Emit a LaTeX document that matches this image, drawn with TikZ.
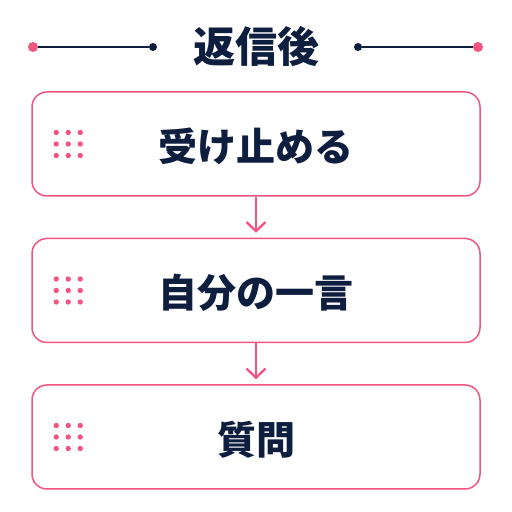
\documentclass[tikz,border=0pt]{standalone}
\usepackage{fontspec}
\newfontfamily\cjk{Noto Sans CJK JP}
\usetikzlibrary{arrows.meta}
\definecolor{pinkc}{HTML}{F2557F}
\definecolor{navyc}{HTML}{0E1E3F}
\tikzset{
  stepbox/.style={draw=pinkc, line width=1.5pt, rounded corners=15pt, minimum width=448pt, minimum height=104pt, fill=white},
  label/.style={text=navyc, font=\cjk\bfseries\fontsize{39pt}{41pt}\selectfont, inner sep=0pt},
  flow/.style={draw=pinkc, line width=2.4pt, -{Straight Barb[length=9pt,width=19pt,line width=2.4pt]}, shorten >=5pt},
  pdot/.style={circle, fill=pinkc, inner sep=0pt, minimum size=5.4pt},
}
\begin{document}
\begin{tikzpicture}[x=1pt,y=1pt]
\useasboundingbox (0,0) rectangle (512,512);
\fill[white] (0,0) rectangle (512,512);
% title
\node[label, font=\cjk\bfseries\fontsize{42pt}{44pt}\selectfont] (title) at (256,465.5) {返信後};
\node[circle, fill=pinkc, inner sep=0pt, minimum size=10pt] (lp) at (33,465) {};
\node[circle, fill=navyc, inner sep=0pt, minimum size=8pt] (ln) at (153,465) {};
\node[circle, fill=navyc, inner sep=0pt, minimum size=8pt] (rn) at (358,465) {};
\node[circle, fill=pinkc, inner sep=0pt, minimum size=10pt] (rp) at (478,465) {};
\draw[navyc, line width=1.4pt] (lp) -- (ln);
\draw[navyc, line width=1.4pt] (rn) -- (rp);
% boxes
\node[stepbox] (b1) at (256,368) {};
\node[stepbox] (b2) at (256,221.5) {};
\node[stepbox] (b3) at (256,75) {};
\node[label] (t1) at (256,365.5) {受け止める};
\node[label] (t2) at (256,219.5) {自分の一言};
\node[label] (t3) at (256,72.5) {質問};
% dots
\foreach \b in {b1,b2,b3}{
  \foreach \i in {0,1,2}{
    \foreach \j in {-1,0,1}{
      \node[pdot] at ([xshift={25pt+12*\i pt}, yshift={11.5*\j pt}]\b.west) {};
    }
  }
}
% arrows
\draw[flow] (b1.south) -- (b2.north);
\draw[flow] (b2.south) -- (b3.north);
\end{tikzpicture}
\end{document}
